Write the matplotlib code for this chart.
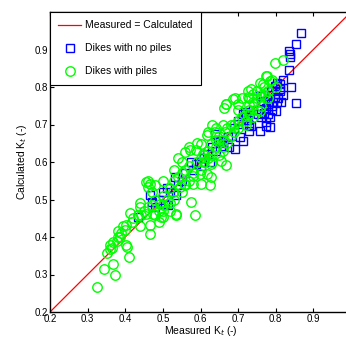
import numpy as np
import matplotlib
matplotlib.use("Agg")
import matplotlib.pyplot as plt

plt.rcParams['font.family'] = ['Liberation Sans', 'DejaVu Sans']

# dikes with no piles (measured, calculated)
no_piles_meas = [0.868, 0.853, 0.834, 0.839, 0.837, 0.834, 0.855, 0.802, 0.797, 0.790,
                 0.810, 0.805, 0.820, 0.815, 0.780, 0.775, 0.790, 0.800, 0.785, 0.770,
                 0.757, 0.766, 0.779, 0.792, 0.797, 0.788, 0.801, 0.810, 0.752, 0.761,
                 0.775, 0.784, 0.757, 0.779, 0.717, 0.713, 0.726, 0.730, 0.700, 0.704,
                 0.713, 0.651, 0.660, 0.677, 0.465, 0.501, 0.536, 0.532, 0.576, 0.589,
                 0.624, 0.616, 0.646, 0.638, 0.673, 0.470, 0.505, 0.514, 0.434, 0.740,
                 0.730, 0.690, 0.680, 0.660, 0.640, 0.610, 0.600, 0.580, 0.550, 0.540,
                 0.520, 0.510, 0.480, 0.490, 0.560, 0.630, 0.700, 0.720, 0.760, 0.780,
                 0.820, 0.810, 0.840, 0.802, 0.791, 0.775, 0.735, 0.691, 0.602]
no_piles_calc = [0.944, 0.916, 0.897, 0.889, 0.881, 0.846, 0.758, 0.812, 0.802, 0.790,
                 0.795, 0.770, 0.780, 0.760, 0.760, 0.745, 0.740, 0.735, 0.720, 0.730,
                 0.777, 0.764, 0.755, 0.760, 0.773, 0.790, 0.803, 0.808, 0.728, 0.719,
                 0.706, 0.693, 0.684, 0.728, 0.733, 0.728, 0.711, 0.684, 0.702, 0.666,
                 0.657, 0.657, 0.644, 0.640, 0.511, 0.520, 0.511, 0.560, 0.600, 0.595,
                 0.600, 0.622, 0.657, 0.675, 0.666, 0.493, 0.489, 0.485, 0.454, 0.740,
                 0.700, 0.690, 0.670, 0.650, 0.630, 0.610, 0.590, 0.580, 0.550, 0.540,
                 0.520, 0.530, 0.480, 0.500, 0.570, 0.640, 0.710, 0.720, 0.760, 0.780,
                 0.820, 0.790, 0.800, 0.761, 0.750, 0.697, 0.697, 0.636, 0.600]

# dikes with piles (measured, calculated)
piles_meas = [0.325, 0.343, 0.372, 0.368, 0.410, 0.352, 0.359, 0.364, 0.403, 0.405,
              0.367, 0.377, 0.386, 0.381, 0.390, 0.394, 0.403, 0.417, 0.412, 0.439,
              0.434, 0.465, 0.465, 0.443, 0.456, 0.474, 0.496, 0.536, 0.470, 0.492,
              0.501, 0.576, 0.536, 0.585, 0.501, 0.624, 0.602, 0.580, 0.465, 0.456,
              0.461, 0.470, 0.527, 0.545, 0.558, 0.580, 0.598, 0.616, 0.629, 0.558,
              0.571, 0.589, 0.607, 0.602, 0.629, 0.642, 0.660, 0.629, 0.669, 0.655,
              0.616, 0.638, 0.664, 0.669, 0.686, 0.700, 0.726, 0.735, 0.739, 0.726,
              0.757, 0.766, 0.776, 0.784, 0.730, 0.743, 0.730, 0.757, 0.797, 0.818,
              0.775, 0.691, 0.667, 0.662, 0.725,
              0.48, 0.50, 0.52, 0.53, 0.54, 0.55, 0.56, 0.57, 0.59, 0.60,
              0.61, 0.62, 0.63, 0.64, 0.65, 0.66, 0.67, 0.68, 0.69, 0.70,
              0.71, 0.72, 0.73, 0.74, 0.75, 0.76, 0.77, 0.78, 0.79,
              0.44, 0.45, 0.42, 0.40, 0.38, 0.36, 0.46, 0.49, 0.51, 0.52,
              0.53, 0.55, 0.56, 0.57, 0.58, 0.60, 0.61, 0.62, 0.63, 0.65,
              0.66, 0.67, 0.68, 0.69, 0.70, 0.72, 0.74, 0.75, 0.76, 0.78,
              0.55, 0.54, 0.53, 0.50, 0.48, 0.46, 0.59, 0.57, 0.62, 0.64,
              0.66, 0.63, 0.50, 0.49, 0.44, 0.48, 0.52, 0.70, 0.71, 0.73,
              0.75, 0.77, 0.80]
piles_calc = [0.267, 0.314, 0.298, 0.328, 0.347, 0.358, 0.368, 0.372, 0.378, 0.374,
              0.387, 0.390, 0.400, 0.416, 0.411, 0.429, 0.431, 0.440, 0.463, 0.480,
              0.458, 0.431, 0.409, 0.458, 0.462, 0.462, 0.453, 0.462, 0.485, 0.489,
              0.485, 0.493, 0.458, 0.458, 0.454, 0.538, 0.542, 0.542, 0.542, 0.547,
              0.533, 0.520, 0.520, 0.533, 0.542, 0.564, 0.569, 0.569, 0.560, 0.626,
              0.631, 0.631, 0.622, 0.649, 0.649, 0.640, 0.640, 0.595, 0.591, 0.604,
              0.671, 0.680, 0.680, 0.755, 0.768, 0.755, 0.790, 0.795, 0.782, 0.773,
              0.812, 0.808, 0.830, 0.817, 0.751, 0.755, 0.728, 0.737, 0.865, 0.873,
              0.829, 0.772, 0.756, 0.745, 0.724,
              0.50, 0.51, 0.53, 0.55, 0.56, 0.57, 0.58, 0.59, 0.60, 0.61,
              0.62, 0.63, 0.62, 0.66, 0.67, 0.66, 0.69, 0.70, 0.70, 0.71,
              0.72, 0.71, 0.74, 0.76, 0.77, 0.78, 0.80, 0.79, 0.82,
              0.49, 0.47, 0.45, 0.42, 0.40, 0.38, 0.48, 0.47, 0.50, 0.49,
              0.50, 0.52, 0.54, 0.55, 0.57, 0.58, 0.60, 0.61, 0.60, 0.62,
              0.63, 0.65, 0.67, 0.68, 0.69, 0.70, 0.72, 0.74, 0.75, 0.77,
              0.60, 0.61, 0.58, 0.55, 0.54, 0.55, 0.65, 0.64, 0.68, 0.69,
              0.70, 0.70, 0.47, 0.44, 0.43, 0.46, 0.47, 0.74, 0.77, 0.77,
              0.79, 0.78, 0.80]

line_ends = [0.2, 1.0]
ticks = [0.2, 0.3, 0.4, 0.5, 0.6, 0.7, 0.8, 0.9]

fig = plt.figure(figsize=(3.46, 3.38), dpi=100)
ax = fig.add_axes([50/346, 26/338, 301/346, 300/338])

ax.plot(line_ends, line_ends, color='#ff0000', lw=0.9, label='Measured = Calculated')
ax.plot(no_piles_meas, no_piles_calc, 's', ms=5.5, mfc='none', mec='#0000ff', mew=1.0,
        label='Dikes with no piles')
ax.plot(piles_meas, piles_calc, 'o', ms=6.8, mfc='none', mec='#00ff00', mew=1.0,
        label='Dikes with piles')

ax.set_xlim(0.2, 1.0)
ax.set_ylim(0.2, 1.0)
ax.set_xticks(ticks)
ax.set_yticks(ticks)
ax.set_xticklabels([f'{t:.1f}' for t in ticks])
ax.set_yticklabels([f'{t:.1f}' for t in ticks])
ax.tick_params(direction='in', length=3, width=0.8, top=True, right=True, labelsize=7, pad=1.5)
for s in ax.spines.values():
    s.set_linewidth(1.0)

ax.set_xlabel('Measured K$_t$ (-)', fontsize=7.5, labelpad=0)
ax.set_ylabel('Calculated K$_t$ (-)', fontsize=7.5, labelpad=4)

leg = ax.legend(loc='upper left', bbox_to_anchor=(0, 1), borderaxespad=0, fontsize=7.5,
                fancybox=False, edgecolor='black', framealpha=1, handlelength=2.2,
                handletextpad=0.4, labelspacing=1.25, borderpad=0.8)
leg.get_frame().set_linewidth(0.8)

fig.savefig('out.png', dpi=100)
